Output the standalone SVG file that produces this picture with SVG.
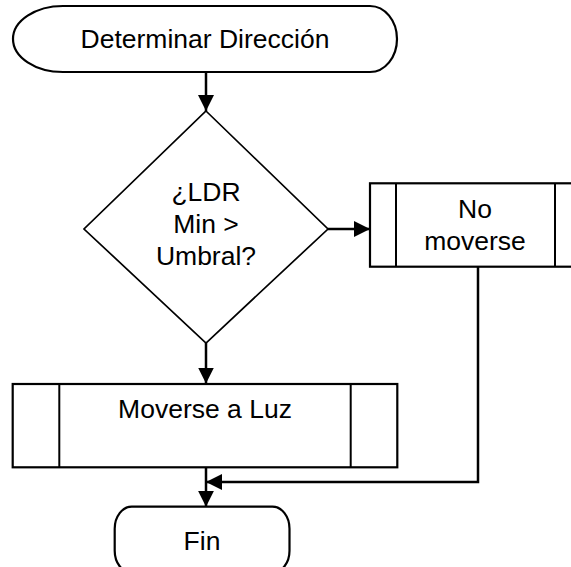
<svg xmlns="http://www.w3.org/2000/svg" width="571" height="567" viewBox="0 0 571 567">
<style>
.shape{fill:#fff;stroke:#000;stroke-width:2.2}
.dia{fill:#fff;stroke:#000;stroke-width:1.7}
.inner{stroke:#000;stroke-width:2;fill:none}
.conn{fill:none;stroke:#000;stroke-width:2.5}
.lbl{font-family:"Liberation Sans",Arial,sans-serif;font-size:26.5px;fill:#000;text-anchor:middle}
</style>
<defs>
<marker id="arr" markerUnits="userSpaceOnUse" markerWidth="16" markerHeight="16" viewBox="0 0 16 16" refX="16" refY="8" orient="auto">
<path d="M0,0 L16,8 L0,16 Z" fill="#000"/>
</marker>
</defs>
<rect width="571" height="567" fill="#fff"/>
<g id="connectors">
<path class="conn" d="M206,72.7 V111" marker-end="url(#arr)"/>
<path class="conn" d="M328,229 H370" marker-end="url(#arr)"/>
<path class="conn" d="M206,343 V383.5" marker-end="url(#arr)"/>
<path class="conn" d="M478,267 V482 H206" marker-end="url(#arr)"/>
<path class="conn" d="M206,467 V506.7" marker-end="url(#arr)"/>
</g>
<g id="start">
<path class="shape" d="M63,6 H370 A27,33 0 0 1 397,39 A27,33 0 0 1 370,72 H63 A50,33 0 0 1 13,39 A50,33 0 0 1 63,6 Z"/>
<text class="lbl" x="205" y="48">Determinar Dirección</text>
</g>
<g id="decision">
<path class="dia" d="M206,111 L328,229 L206,343 L84,229 Z"/>
<text class="lbl" x="206" y="200.7">¿LDR</text>
<text class="lbl" x="206" y="232.7">Min &gt;</text>
<text class="lbl" x="206" y="265">Umbral?</text>
</g>
<g id="no-moverse">
<rect class="shape" x="370" y="183.3" width="211" height="83.4"/>
<line class="inner" x1="396" y1="183.3" x2="396" y2="266.7"/>
<line class="inner" x1="555" y1="183.3" x2="555" y2="266.7"/>
<text class="lbl" x="475" y="218.3">No</text>
<text class="lbl" x="475" y="250">moverse</text>
</g>
<g id="moverse-luz">
<rect class="shape" x="12.7" y="384" width="384.6" height="83.3"/>
<line class="inner" x1="59.3" y1="384" x2="59.3" y2="467.3"/>
<line class="inner" x1="350.7" y1="384" x2="350.7" y2="467.3"/>
<text class="lbl" x="205" y="418.3">Moverse a Luz</text>
</g>
<g id="fin">
<rect class="shape" x="114.7" y="506.7" width="174.8" height="66" rx="17" ry="22"/>
<text class="lbl" x="202" y="550">Fin</text>
</g>
</svg>
